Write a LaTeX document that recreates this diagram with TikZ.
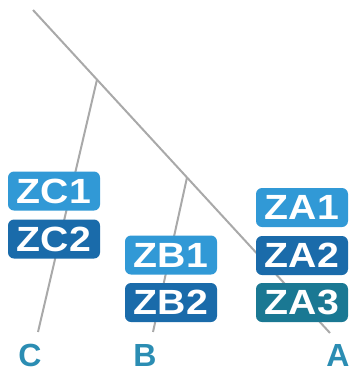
\documentclass[tikz,border=0pt]{standalone}
\usepackage{fontspec}
\usepackage{graphicx}
\setmainfont{Liberation Sans}
\definecolor{linegray}{HTML}{A9A9A9}
\definecolor{lightblue}{HTML}{3199D6}
\definecolor{darkblue}{HTML}{1A6BAA}
\definecolor{tealblue}{HTML}{1A7893}
\definecolor{labelblue}{HTML}{2B8DB3}
\begin{document}
\begin{tikzpicture}[x=1pt,y=-1pt,
  branch/.style={draw=linegray, line width=2pt},
  zbox/.style={rounded corners=6pt, minimum width=92pt, minimum height=39pt,
    inner sep=0pt, text=white, font=\fontsize{35}{35}\selectfont\bfseries},
  light/.style={zbox, fill=lightblue},
  dark/.style={zbox, fill=darkblue},
  teal/.style={zbox, fill=tealblue},
  leaf/.style={text=labelblue, inner sep=0pt, anchor=base,
    font=\fontsize{32}{32}\selectfont\bfseries}]
\useasboundingbox (0,0) rectangle (352,373);
% coordinates
\coordinate (root) at (33,10);
\coordinate (aend) at (330,333);
\coordinate (cjoin) at (97,79.6);
\coordinate (bjoin) at (187,177.5);
\coordinate (cend) at (38,332);
\coordinate (bend) at (153,332);
% connectors
\draw[branch] (root) -- (aend);
\draw[branch] (cjoin) -- (cend);
\draw[branch] (bjoin) -- (bend);
% boxes
\node[light] (zc1) at (54,191) {\scalebox{1.12}[1]{ZC1}};
\node[dark]  (zc2) at (54,239) {\scalebox{1.12}[1]{ZC2}};
\node[light] (zb1) at (171,255) {\scalebox{1.12}[1]{ZB1}};
\node[dark]  (zb2) at (171,302.5) {\scalebox{1.12}[1]{ZB2}};
\node[light] (za1) at (302,207.5) {\scalebox{1.12}[1]{ZA1}};
\node[dark]  (za2) at (302,255.5) {\scalebox{1.12}[1]{ZA2}};
\node[teal]  (za3) at (302,302.5) {\scalebox{1.12}[1]{ZA3}};
% leaf labels
\node[leaf] (lc) at (30,366) {C};
\node[leaf] (lb) at (145,366) {B};
\node[leaf] (la) at (338,366) {A};
\end{tikzpicture}
\end{document}
